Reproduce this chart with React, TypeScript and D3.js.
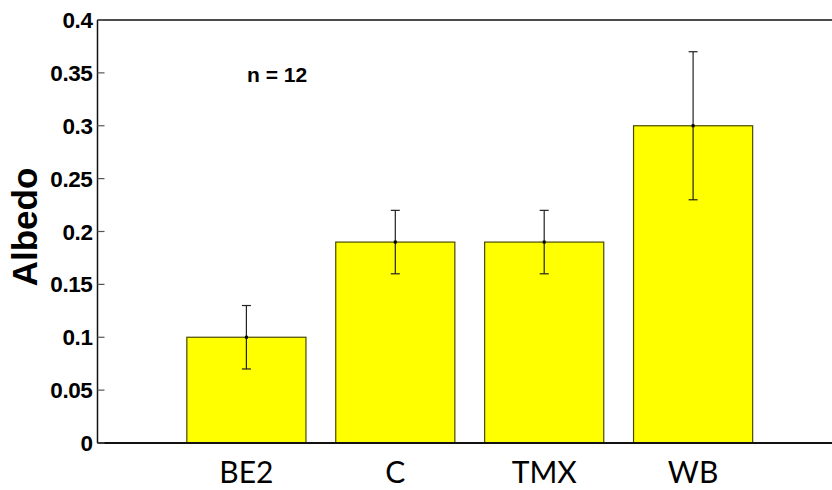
import { useEffect, useRef } from "react";
import * as d3 from "d3";

const categories = ["BE2", "C", "TMX", "WB"];
const albedo = [0.1, 0.19, 0.19, 0.3];
const errors = [0.03, 0.03, 0.03, 0.07];
const yTicks = [0, 0.05, 0.1, 0.15, 0.2, 0.25, 0.3, 0.35, 0.4];
const yTickLabels = ["0", "0.05", "0.1", "0.15", "0.2", "0.25", "0.3", "0.35", "0.4"];

const App = () => {
  const svgRef = useRef<SVGSVGElement>(null);

  useEffect(() => {
    const width = 832;
    const height = 490;
    const svg = d3.select(svgRef.current);
    svg.selectAll("*").remove();
    svg.attr("width", width).attr("height", height);

    // matlab style: xlim [0, 5], bars at 1..4
    const x = d3.scaleLinear().domain([0, 5]).range([97.5, 842]);
    const y = d3.scaleLinear().domain([0, 0.4]).range([443, 20]);
    const barW = (x(1) - x(0)) * 0.8;

    svg.append("rect").attr("width", width).attr("height", height).attr("fill", "white");

    const g = svg.append("g");

    // Bars
    g.selectAll(".bar")
      .data(albedo)
      .enter()
      .append("rect")
      .attr("x", (_, i) => x(i + 1) - barW / 2)
      .attr("y", (d) => y(d))
      .attr("width", barW)
      .attr("height", (d) => y(0) - y(d))
      .attr("fill", "#ffff00")
      .attr("stroke", "#4a4a00")
      .attr("stroke-width", 1.2);

    // Error bars
    const eb = g
      .selectAll(".err")
      .data(albedo)
      .enter()
      .append("g")
      .attr("stroke", "#222")
      .attr("stroke-width", 1.2);
    eb.append("line")
      .attr("x1", (_, i) => x(i + 1))
      .attr("x2", (_, i) => x(i + 1))
      .attr("y1", (d, i) => y(d + errors[i]))
      .attr("y2", (d, i) => y(d - errors[i]));
    eb.append("line")
      .attr("x1", (_, i) => x(i + 1) - 4.5)
      .attr("x2", (_, i) => x(i + 1) + 4.5)
      .attr("y1", (d, i) => y(d + errors[i]))
      .attr("y2", (d, i) => y(d + errors[i]));
    eb.append("line")
      .attr("x1", (_, i) => x(i + 1) - 4.5)
      .attr("x2", (_, i) => x(i + 1) + 4.5)
      .attr("y1", (d, i) => y(d - errors[i]))
      .attr("y2", (d, i) => y(d - errors[i]));
    eb.append("rect")
      .attr("x", (_, i) => x(i + 1) - 1.5)
      .attr("y", (d) => y(d) - 1.5)
      .attr("width", 3)
      .attr("height", 3)
      .attr("fill", "#000")
      .attr("stroke", "none");

    // Axes box lines (left, top, bottom)
    const axisColor = "#111";
    g.append("line")
      .attr("x1", x(0)).attr("x2", x(0))
      .attr("y1", y(0.4)).attr("y2", y(0))
      .attr("stroke", axisColor).attr("stroke-width", 1.5);
    g.append("line")
      .attr("x1", x(0)).attr("x2", width)
      .attr("y1", y(0.4)).attr("y2", y(0.4))
      .attr("stroke", axisColor).attr("stroke-width", 1.5);
    g.append("line")
      .attr("x1", x(0)).attr("x2", width)
      .attr("y1", y(0)).attr("y2", y(0))
      .attr("stroke", axisColor).attr("stroke-width", 2);

    // Y ticks (inward) and labels
    g.selectAll(".ytick")
      .data(yTicks)
      .enter()
      .append("line")
      .attr("x1", x(0))
      .attr("x2", x(0) + 7)
      .attr("y1", (d) => y(d))
      .attr("y2", (d) => y(d))
      .attr("stroke", "#555")
      .attr("stroke-width", 1.2);

    g.selectAll(".ylab")
      .data(yTicks)
      .enter()
      .append("text")
      .attr("x", x(0) - 5)
      .attr("y", (d) => y(d))
      .attr("dy", "0.36em")
      .attr("text-anchor", "end")
      .attr("font-family", "Liberation Sans, Arial, sans-serif")
      .attr("font-weight", "bold")
      .attr("font-size", 22.5)
      .attr("letter-spacing", -0.4)
      .attr("fill", "#000")
      .text((_, i) => yTickLabels[i]);

    // Category labels
    g.selectAll(".xlab")
      .data(categories)
      .enter()
      .append("text")
      .attr("x", (_, i) => x(i + 1))
      .attr("y", 483)
      .attr("text-anchor", "middle")
      .attr("font-family", "Lato, sans-serif")
      .attr("font-size", 30)
      .attr("fill", "#000")
      .text((d) => d);

    // Y axis title
    g.append("text")
      .attr("transform", `translate(37, ${227}) rotate(-90)`)
      .attr("text-anchor", "middle")
      .attr("font-family", "Liberation Sans, Arial, sans-serif")
      .attr("font-weight", "bold")
      .attr("font-size", 35)
      .attr("fill", "#000")
      .text("Albedo");

    // annotation
    g.append("text")
      .attr("x", 247)
      .attr("y", 82)
      .attr("font-family", "Liberation Sans, Arial, sans-serif")
      .attr("font-weight", "bold")
      .attr("font-size", 21)
      .attr("fill", "#000")
      .text("n = 12");
  }, []);

  return <svg ref={svgRef} style={{ position: "absolute", left: 0, top: 0 }}></svg>;
};

export default App;
